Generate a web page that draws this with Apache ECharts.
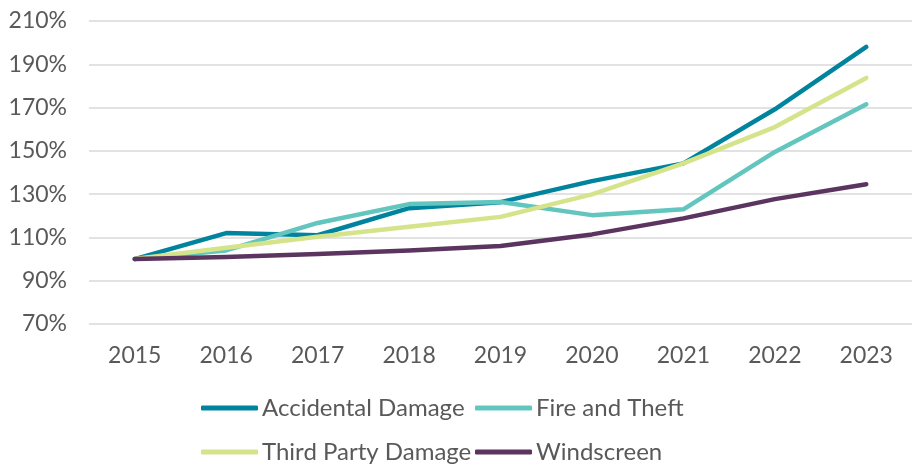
<!DOCTYPE html>
<html>
<head>
<meta charset="utf-8">
<script src="https://cdn.jsdelivr.net/npm/echarts@6/dist/echarts.min.js"></script>
<style>html,body{margin:0;padding:0;background:#fff;}#c{width:912px;height:469px;}</style>
</head>
<body>
<div id="c"></div>
<script>
const years = ['2015','2016','2017','2018','2019','2020','2021','2022','2023'];
const accidentalDamage = [100, 112, 111, 123.5, 126.3, 136, 144.2, 169.2, 198];
const fireAndTheft = [100, 104, 116.7, 125.4, 126.4, 120.3, 123, 149.5, 171.5];
const thirdPartyDamage = [100, 105.2, 110.3, 114.9, 119.5, 129.9, 144.2, 161, 183.7];
const windscreen = [100, 101, 102.3, 104, 106, 111.4, 118.8, 127.7, 134.6];
const seriesNames = ['Accidental Damage', 'Fire and Theft', 'Third Party Damage', 'Windscreen'];

const font = 'Lato, "Open Sans", sans-serif';
const textColor = '#595959';
const colors = ['#00849E', '#62C6BE', '#D5E38A', '#5B3560'];
const allData = [accidentalDamage, fireAndTheft, thirdPartyDamage, windscreen];

const chart = echarts.init(document.getElementById('c'), null, {renderer: 'canvas'});
const legendPos = [
  {left: 201, top: 396},
  {left: 475, top: 396},
  {left: 201, top: 440},
  {left: 475, top: 440}
];
const legends = seriesNames.map((n, i) => ({
  orient: 'horizontal',
  left: legendPos[i].left,
  top: legendPos[i].top,
  padding: 0,
  itemWidth: 57,
  itemHeight: 5,
  icon: 'roundRect',
  textStyle: {fontFamily: font, fontSize: 24, color: textColor, padding: [0, 0, 0, -1]},
  selectedMode: false,
  data: [n]
}));
chart.setOption({
  animation: false,
  color: colors,
  grid: {left: 89, right: -9, top: 21, bottom: 145, containLabel: false},
  legend: legends,
  xAxis: {
    type: 'category',
    data: years,
    boundaryGap: true,
    axisLine: {show: false},
    axisTick: {show: false},
    axisLabel: {fontFamily: font, fontSize: 23, color: textColor, margin: 20}
  },
  yAxis: {
    type: 'value',
    min: 70,
    max: 210,
    interval: 20,
    axisLine: {show: false},
    axisTick: {show: false},
    axisLabel: {fontFamily: font, fontSize: 23, color: textColor, margin: 22, formatter: v => v + '%'},
    splitLine: {lineStyle: {color: '#D9D9D9', width: 1.5}}
  },
  series: allData.map((d, i) => ({
    name: seriesNames[i],
    type: 'line',
    data: d,
    symbol: 'none',
    smooth: false,
    lineStyle: {width: 4.5, color: colors[i], cap: 'round', join: 'round'},
    itemStyle: {color: colors[i]}
  }))
});
</script>
</body>
</html>
